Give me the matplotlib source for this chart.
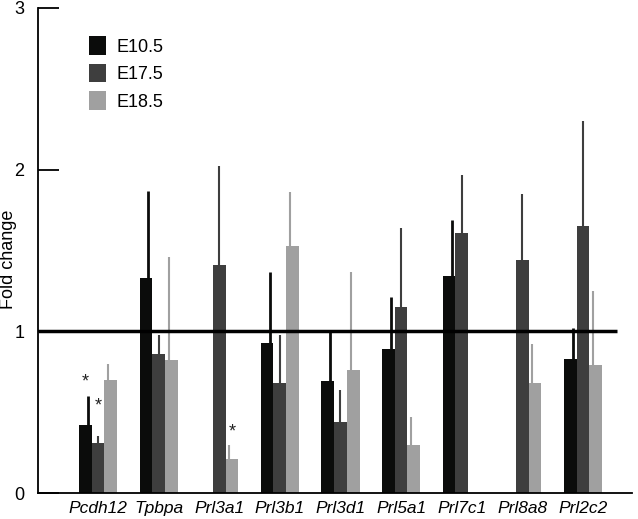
import numpy as np
import matplotlib
matplotlib.use("Agg")
import matplotlib.pyplot as plt

plt.rcParams["font.family"] = ["Liberation Sans", "DejaVu Sans"]

genes = ["Pcdh12", "Tpbpa", "Prl3a1", "Prl3b1", "Prl3d1", "Prl5a1", "Prl7c1", "Prl8a8", "Prl2c2"]
stages = ["E10.5", "E17.5", "E18.5"]
colors = ["#0b0c0b", "#3e3e3e", "#a0a0a0"]

# mean fold change, nan = no bar
e105 = [0.42, 1.33, np.nan, 0.93, 0.69, 0.89, 1.34, np.nan, 0.83]
e175 = [0.31, 0.86, 1.41, 0.68, 0.44, 1.15, 1.61, 1.44, 1.65]
e185 = [0.70, 0.82, 0.21, 1.53, 0.76, 0.30, np.nan, 0.68, 0.79]

# upper error bar values
e105_err = [0.18, 0.54, np.nan, 0.44, 0.31, 0.32, 0.35, np.nan, 0.19]
e175_err = [0.04, 0.12, 0.61, 0.30, 0.20, 0.49, 0.36, 0.41, 0.65]
e185_err = [0.10, 0.64, 0.09, 0.33, 0.61, 0.17, np.nan, 0.24, 0.46]

# significance stars: (gene index, stage index, y)
stars = [(0, 0, 0.69), (0, 1, 0.54), (2, 2, 0.38)]

means = [e105, e175, e185]
errs = [e105_err, e175_err, e185_err]
err_lw = [2.0, 1.5, 1.5]

fig = plt.figure(figsize=(6.38, 5.19), dpi=100)
ax = fig.add_axes([0.0596, 0.050, 0.931, 0.9346])

x = np.arange(len(genes))
w = 0.21
for k in range(3):
    off = (k - 1) * w
    vals = np.array(means[k], dtype=float)
    er = np.array(errs[k], dtype=float)
    ax.bar(x + off, np.nan_to_num(vals), width=w, color=colors[k],
           label=stages[k], zorder=2)
    ex = x + off * 0.8
    ok = ~np.isnan(vals)
    ax.vlines(ex[ok], vals[ok], vals[ok] + er[ok], color=colors[k],
              linewidth=err_lw[k], zorder=1)

for gi, si, yv in stars:
    ax.text(x[gi] + (si - 1) * w * 1.0, yv, "*", ha="center", va="center",
            fontsize=13, color="#222222")

ax.hlines(1, -0.99, 8.57, color="black", linewidth=2.5, zorder=3)

ax.set_xlim(-0.99, 8.81)
ax.set_ylim(0, 3)
ax.set_yticks([0, 1, 2, 3])
ax.set_xticks(x)
ax.set_xticklabels(genes, fontstyle="italic", fontsize=12.5)
ax.tick_params(axis="x", length=0, pad=6)
ax.tick_params(axis="y", direction="in", length=15, width=1.3, labelsize=13, pad=10)

for s in ["top", "right"]:
    ax.spines[s].set_visible(False)
for s in ["left", "bottom"]:
    ax.spines[s].set_linewidth(1.3)

ax.set_ylabel("Fold change", fontsize=13)
ax.yaxis.set_label_coords(-0.035, 0.482)

ax.legend(loc="upper left", bbox_to_anchor=(0.058, 0.975), frameon=False,
          fontsize=13, handlelength=0.95, handleheight=1.2, labelspacing=0.45,
          handletextpad=0.6)

fig.savefig("out.png", dpi=100)
